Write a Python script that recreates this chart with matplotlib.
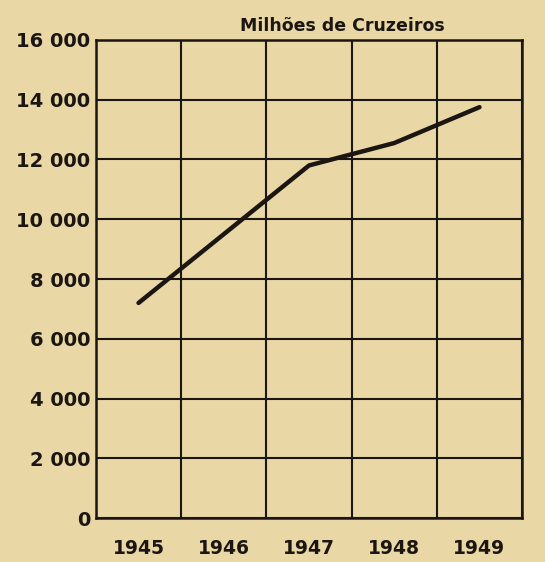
import matplotlib.pyplot as plt

years = [1945, 1946, 1947, 1948, 1949]
values = [7200, 9500, 11800, 12550, 13750]
y_ticks = [0, 2000, 4000, 6000, 8000, 10000, 12000, 14000, 16000]
y_labels = ['0', '2 000', '4 000', '6 000', '8 000', '10 000', '12 000', '14 000', '16 000']

bg = '#e9d7a6'
ink = '#1c1612'

fig = plt.figure(figsize=(5.45, 5.62), dpi=100, facecolor=bg)
ax = fig.add_axes([0.176, 0.078, 0.782, 0.851], facecolor=bg)

ax.plot(years, values, color=ink, linewidth=3.2, solid_capstyle='round', zorder=3)

ax.set_xlim(1944.5, 1949.5)
ax.set_ylim(0, 16000)

# grid lines at column boundaries
ax.set_xticks([1944.5 + i for i in range(6)])
ax.set_xticklabels([])
ax.set_yticks(y_ticks)
ax.set_yticklabels(y_labels, fontsize=14, fontweight='bold', color=ink)
ax.tick_params(length=0, pad=4)
ax.grid(True, color=ink, linewidth=1.5)
for s in ax.spines.values():
    s.set_color(ink)
    s.set_linewidth(1.8)

for yr in years:
    ax.text(yr, -1000, str(yr), ha='center', va='center', fontsize=13.5,
            fontweight='bold', color=ink)

fig.text(0.628, 0.953, 'Milhões de Cruzeiros', ha='center', va='center',
         fontsize=12.5, fontweight='bold', color=ink)

fig.savefig('out.png', dpi=100, facecolor=bg)
